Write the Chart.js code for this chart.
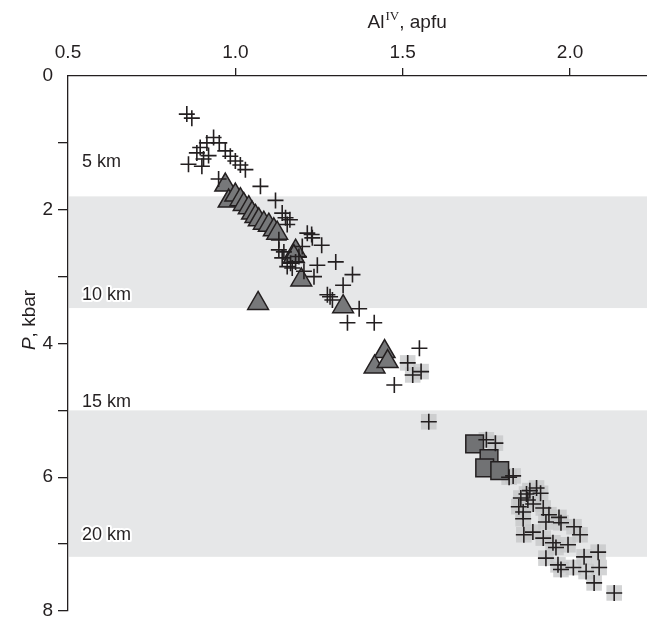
<!DOCTYPE html>
<html>
<head>
<meta charset="utf-8">
<script src="https://cdn.jsdelivr.net/npm/chart.js@4.4.1/dist/chart.umd.min.js"></script>
<style>
  html, body { margin: 0; padding: 0; background: #fff; }
  #wrap { width: 647px; height: 620px; }
</style>
</head>
<body>
<div id="wrap"><canvas id="chart" width="647" height="620"></canvas></div>
<script>
// Axis ticks
const xTicks = [0.5, 1.0, 1.5, 2.0];
const yTicks = [0, 1, 2, 3, 4, 5, 6, 7, 8];

// Depth bands (P, kbar) and depth labels
const bandRanges = [[1.8, 3.47], [5.0, 7.19]];
const depthLabels = ['5 km', '10 km', '15 km', '20 km'];
const depthLabelP = [1.28, 3.27, 4.88, 6.86];

// Plain crosses (upper group)
const crossAl = [0.855, 0.87, 0.935, 0.915, 0.952, 0.895, 0.885, 0.97, 0.985, 1.0, 1.015, 1.03, 0.905, 0.86, 0.9, 0.92,
  0.95, 1.075, 1.12, 1.14, 1.15, 1.163, 1.155, 1.215, 1.228, 1.258, 1.2, 1.145, 1.165, 1.18, 1.17, 1.245, 1.235,
  1.3, 1.35, 1.322, 1.275, 1.29, 1.283, 1.37, 1.335, 1.415, 1.55, 1.475, 1.13, 1.14, 1.155, 1.19, 1.205, 1.23, 1.13];
const crossP = [0.57, 0.63, 0.92, 1.0, 1.0, 1.07, 1.15, 1.12, 1.2, 1.27, 1.33, 1.4, 1.24, 1.32, 1.35, 1.19,
  1.54, 1.65, 1.86, 2.05, 2.12, 2.15, 2.22, 2.35, 2.37, 2.53, 2.55, 2.63, 2.8, 2.78, 2.87, 2.83, 3.0,
  2.78, 2.97, 3.13, 3.27, 3.35, 3.3, 3.48, 3.69, 3.69, 4.07, 4.62, 2.6, 2.72, 2.85, 2.7, 2.92, 2.42, 2.45];

// Triangles
const triAl = [0.97, 0.98, 1.0, 1.015, 1.025, 1.04, 1.05, 1.06, 1.07, 1.085, 1.1, 1.115, 1.125, 1.18, 1.175,
  1.197, 1.068, 1.322, 1.446, 1.416, 1.455];
const triP = [1.63, 1.87, 1.78, 1.85, 1.92, 1.97, 2.05, 2.1, 2.15, 2.2, 2.23, 2.3, 2.35, 2.62, 2.7,
  3.05, 3.4, 3.45, 4.12, 4.35, 4.27];

// Squares
const sqAl = [1.715, 1.758, 1.745, 1.79];
const sqP = [5.5, 5.72, 5.86, 5.9];

// Crosses with grey background (lower group)
const haloAl = [1.515, 1.555, 1.53, 1.578, 1.75, 1.777, 1.818, 1.83, 1.9, 1.912, 1.853, 1.874, 1.847, 1.86, 1.89,
  1.92, 1.937, 1.967, 1.973, 2.012, 2.03, 1.862, 1.889, 1.92, 1.949, 1.958, 1.994, 2.084, 2.042, 1.928, 1.964,
  1.973, 2.01, 2.048, 2.087, 2.072, 2.132, 1.928, 1.86, 1.87, 1.88];
const haloP = [4.29, 4.42, 4.47, 5.17, 5.44, 5.49, 6.0, 5.98, 6.16, 6.24, 6.31, 6.34, 6.44, 6.52, 6.4,
  6.46, 6.56, 6.6, 6.68, 6.74, 6.86, 6.86, 6.82, 6.91, 6.98, 7.05, 7.01, 7.12, 7.19, 7.21, 7.31,
  7.38, 7.35, 7.41, 7.35, 7.58, 7.73, 6.67, 6.62, 6.25, 6.2];

function pts(xs, ys) {
  return xs.map(function(x, i) { return { x: x, y: ys[i] }; });
}

const FONT = '"Liberation Sans", Arial, sans-serif';
const INK = '#231f20';

// grey bands behind the data + depth labels
const bandsPlugin = {
  id: 'bands',
  beforeDatasetsDraw(chart) {
    const ctx = chart.ctx, a = chart.chartArea, y = chart.scales.y;
    ctx.save();
    ctx.fillStyle = '#e6e7e8';
    bandRanges.forEach(function(b) {
      const y0 = y.getPixelForValue(b[0]), y1 = y.getPixelForValue(b[1]);
      ctx.fillRect(a.left + 1, y0, a.right - a.left, y1 - y0);
    });
    ctx.restore();
  },
  afterDatasetsDraw(chart) {
    const ctx = chart.ctx, a = chart.chartArea, y = chart.scales.y;
    ctx.save();
    ctx.font = '18px ' + FONT;
    ctx.textBaseline = 'middle';
    ctx.lineJoin = 'round';
    depthLabels.forEach(function(t, i) {
      const py = y.getPixelForValue(depthLabelP[i]);
      ctx.strokeStyle = '#fff';
      ctx.lineWidth = 4;
      ctx.strokeText(t, a.left + 14, py);
      ctx.fillStyle = INK;
      ctx.fillText(t, a.left + 14, py);
    });
    ctx.restore();
  }
};

// axis titles: Al^IV, apfu and italic P, kbar
const titlesPlugin = {
  id: 'titles',
  afterDraw(chart) {
    const ctx = chart.ctx, x = chart.scales.x;
    ctx.save();
    ctx.fillStyle = INK;
    ctx.textBaseline = 'alphabetic';
    const big = '19px ' + FONT, sup = '13px "Liberation Serif", "Times New Roman", serif';
    ctx.font = big; const w1 = ctx.measureText('Al').width;
    ctx.font = sup; const w2 = ctx.measureText('IV').width;
    ctx.font = big; const w3 = ctx.measureText(', apfu').width;
    let cx = x.getPixelForValue(1.5) + 4 - (w1 + w2 + w3) / 2;
    const base = 28;
    ctx.font = big; ctx.fillText('Al', cx, base); cx += w1 + 1;
    ctx.font = sup; ctx.fillText('IV', cx, base - 8); cx += w2;
    ctx.font = big; ctx.fillText(', apfu', cx, base);

    ctx.translate(30, 320);
    ctx.rotate(-Math.PI / 2);
    ctx.font = 'italic 19px ' + FONT;
    const wp = ctx.measureText('P').width;
    ctx.font = '19px ' + FONT;
    const wr = ctx.measureText(', kbar').width;
    let sx = -(wp + wr) / 2;
    ctx.textBaseline = 'middle';
    ctx.font = 'italic 19px ' + FONT; ctx.fillText('P', sx, 0);
    ctx.font = '19px ' + FONT; ctx.fillText(', kbar', sx + wp, 0);
    ctx.restore();
  }
};

function hideAt(v) {
  return function(c) { return (c.tick && c.tick.value === v) ? 'rgba(0,0,0,0)' : INK; };
}

new Chart(document.getElementById('chart'), {
  type: 'scatter',
  data: {
    datasets: [
      { label: 'crosses', data: pts(crossAl, crossP), pointStyle: 'cross', radius: 8,
        borderColor: INK, borderWidth: 1.6, backgroundColor: INK },
      { label: 'crosses (grey)', data: pts(haloAl, haloP), pointStyle: 'cross', radius: 8,
        borderColor: INK, borderWidth: 1.6, backgroundColor: INK },
      { label: 'triangles', data: pts(triAl, triP), pointStyle: 'triangle', radius: 12,
        borderColor: INK, borderWidth: 1.5, backgroundColor: '#77787a' },
      { label: 'squares', data: pts(sqAl, sqP), pointStyle: 'rect', radius: 12.5,
        borderColor: INK, borderWidth: 1.5, backgroundColor: '#717274' },
      { label: 'grey back', data: pts(haloAl, haloP), pointStyle: 'rect', radius: 11,
        borderWidth: 0, backgroundColor: 'rgba(196,197,199,0.75)' }
    ]
  },
  options: {
    responsive: false,
    animation: false,
    events: [],
    layout: { autoPadding: false, padding: { left: 0, right: 0, top: 0, bottom: 9 } },
    plugins: { legend: { display: false }, tooltip: { enabled: false } },
    scales: {
      x: {
        type: 'linear', position: 'top', min: 0.5, max: 2.23,
        afterBuildTicks: function(s) { s.ticks = xTicks.map(function(v) { return { value: v }; }); },
        afterFit: function(s) { s.height = 76; s.paddingLeft = 0; s.paddingRight = 0; },
        border: { display: true, color: INK, width: 1.3 },
        grid: { drawOnChartArea: false, drawTicks: true, tickLength: 8, lineWidth: 1.3, color: hideAt(0.5) },
        ticks: { color: INK, font: { family: FONT, size: 19 }, padding: 4,
          callback: function(v) { return v.toFixed(1); } }
      },
      y: {
        type: 'linear', reverse: true, min: 0, max: 8,
        afterBuildTicks: function(s) { s.ticks = yTicks.map(function(v) { return { value: v }; }); },
        afterFit: function(s) { s.width = 68; s.paddingTop = 0; s.paddingBottom = 0; },
        border: { display: true, color: INK, width: 1.3 },
        grid: { drawOnChartArea: false, drawTicks: true, tickLength: 10, lineWidth: 1.3, color: hideAt(0) },
        ticks: { color: INK, font: { family: FONT, size: 19 }, padding: 5,
          callback: function(v) { return v % 2 === 0 ? String(v) : ''; } }
      }
    }
  },
  plugins: [bandsPlugin, titlesPlugin]
});
</script>
</body>
</html>
